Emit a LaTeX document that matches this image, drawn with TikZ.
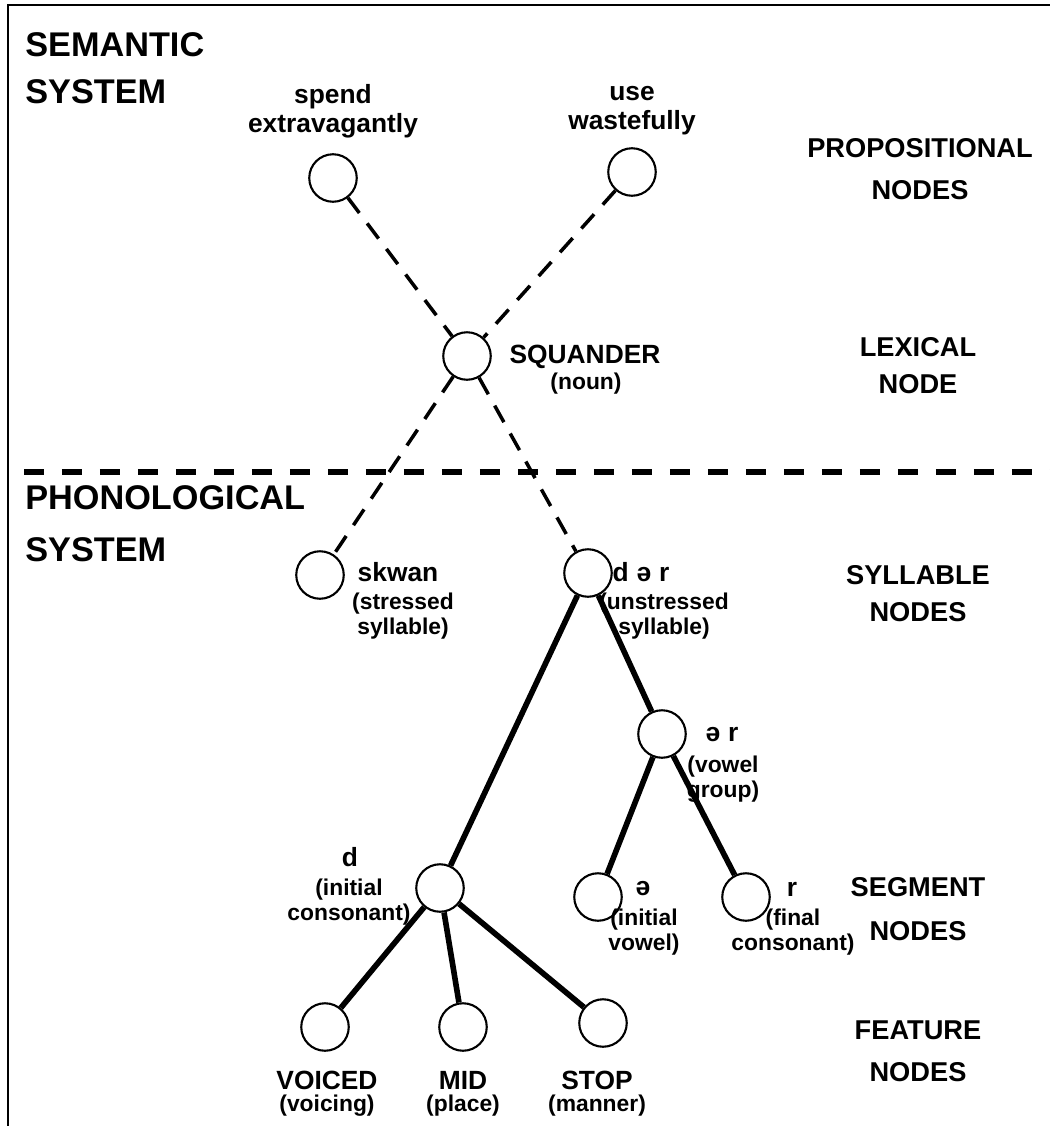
\documentclass[tikz,border=0pt]{standalone}
\usepackage{fontspec}
\setmainfont{Liberation Sans}
\begin{document}
\begin{tikzpicture}[x=0.02cm,y=-0.02cm,
	nd/.style={circle,draw,line width=1.2pt,minimum size=0.95cm,inner sep=0pt},
	lbl/.style={font=\bfseries\fontsize{15}{16.5}\selectfont,align=center,inner sep=0pt},
	sub/.style={font=\bfseries\fontsize{13}{14.5}\selectfont,align=center,inner sep=0pt},
	side/.style={font=\bfseries\fontsize{15.5}{24}\selectfont,align=center,inner sep=0pt},
	sys/.style={font=\bfseries\fontsize{19.5}{27}\selectfont,align=left,anchor=west,inner sep=0pt},
	sem/.style={line width=2pt,dash pattern=on 0.38cm off 0.26cm},
	pho/.style={line width=3.2pt}]
	\useasboundingbox (0,0) rectangle (1050,1126);
	% frame and border between the systems
	\draw[line width=1.1pt] (8,1126) -- (8,5) -- (1050,5);
	\draw[line width=3.4pt,dash pattern=on 0.4cm off 0.36cm] (24,472) -- (1050,472);
	\node[sys] (semsys) at (25,68) {SEMANTIC\\SYSTEM};
	\node[sys,font=\bfseries\fontsize{19.5}{29.5}\selectfont] (phosys) at (25,524) {PHONOLOGICAL\\SYSTEM};
	% levels
	\node[side] (prop) at (920,169) {PROPOSITIONAL\\NODES};
	\node[side,font=\bfseries\fontsize{15.5}{21}\selectfont] (lex) at (918,366) {LEXICAL\\NODE};
	\node[side,font=\bfseries\fontsize{15.5}{21}\selectfont] (syl) at (918,594) {SYLLABLE\\NODES};
	\node[side,font=\bfseries\fontsize{15.5}{25}\selectfont] (seg) at (918,909) {SEGMENT\\NODES};
	\node[side] (feat) at (918,1051) {FEATURE\\NODES};
	% nodes
	\node[nd] (se) at (333,178) {};
	\node[nd] (uw) at (632,172) {};
	\node[nd] (sq) at (467,356) {};
	\node[nd] (skw) at (320,575) {};
	\node[nd] (der) at (588,573) {};
	\node[nd] (er) at (662,734) {};
	\node[nd] (dd) at (440,888) {};
	\node[nd] (sch) at (598,897) {};
	\node[nd] (rr) at (746,897) {};
	\node[nd] (voi) at (325,1027) {};
	\node[nd] (mid) at (463,1027) {};
	\node[nd] (stop) at (603,1023) {};
	% labels
	\node[lbl] at (333,111) {spend\\extravagantly};
	\node[lbl] at (632,111) {use\\wastefully};
	\node[lbl] at (585,357) {SQUANDER};
	\node[sub] at (586,384) {(noun)};
	\node[lbl] at (398,572) {skwan};
	\node[sub] at (403,616) {(stressed\\syllable)};
	\node[lbl] at (641,572) {d\hspace{0.3em}ə\hspace{0.3em}r};
	\node[sub] at (664,616) {(unstressed\\syllable)};
	\node[lbl] at (722,735) {ə\hspace{0.3em}r};
	\node[sub] at (723,779) {(vowel\\group)};
	\node[lbl] at (350,857) {d};
	\node[sub] at (349,902) {(initial\\consonant)};
	\node[lbl] at (643,889) {ə};
	\node[sub] at (644,932) {(initial\\vowel)};
	\node[lbl] at (792,889) {r};
	\node[sub] at (793,932) {(final\\consonant)};
	\node[lbl] at (327,1080) {VOICED};
	\node[sub] at (327,1106) {(voicing)};
	\node[lbl] at (463,1080) {MID};
	\node[sub] at (463,1106) {(place)};
	\node[lbl] at (597,1080) {STOP};
	\node[sub] at (597,1106) {(manner)};
	% connections
	\draw[sem] (se) -- (sq);
	\draw[sem] (uw) -- (sq);
	\draw[sem] (sq) -- (skw);
	\draw[sem] (sq) -- (der);
	\draw[pho] (der) -- (dd);
	\draw[pho] (der) -- (er);
	\draw[pho] (er) -- (sch);
	\draw[pho] (er) -- (rr);
	\draw[pho] (dd) -- (voi);
	\draw[pho] (dd) -- (mid);
	\draw[pho] (dd) -- (stop);
\end{tikzpicture}
\end{document}
